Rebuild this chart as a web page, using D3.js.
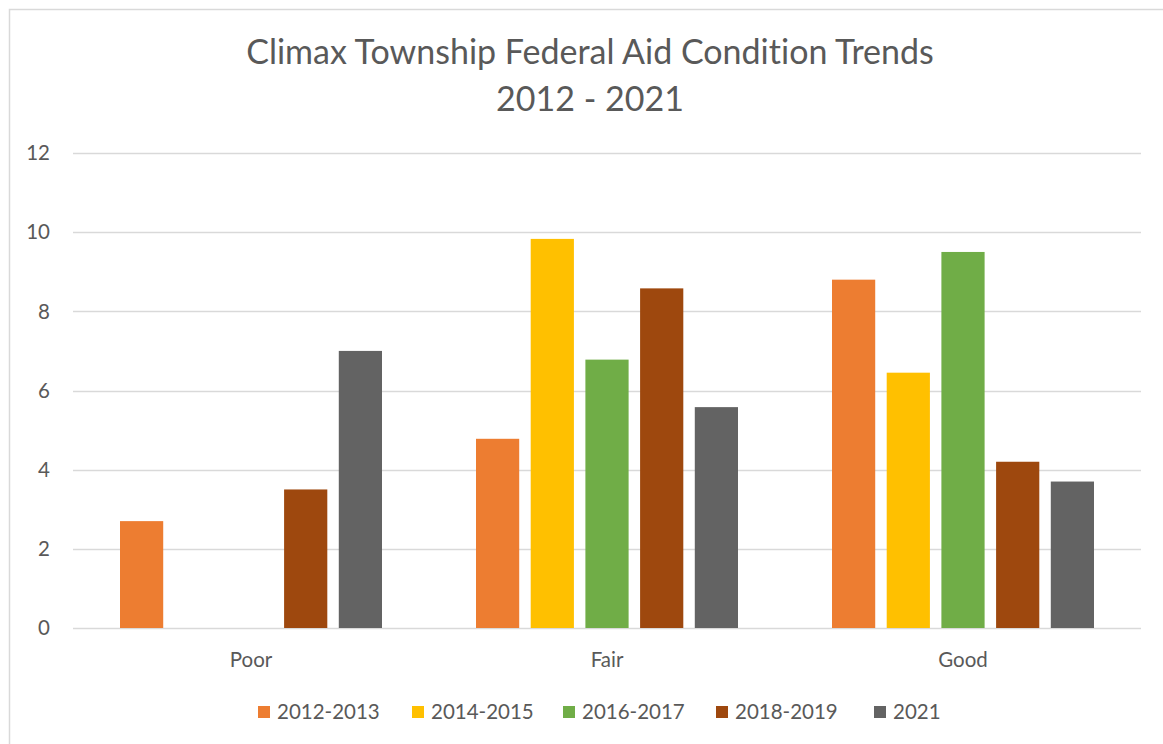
<!DOCTYPE html>
<html><head><meta charset="utf-8">
<script src="https://cdn.jsdelivr.net/npm/d3@7"></script>
<style>body{margin:0;background:#fff;} svg{display:block;} text{font-family:Lato,"Open Sans",sans-serif;fill:#595959;font-variant-ligatures:none;font-feature-settings:"liga" 0;}</style>
</head><body><svg id="c" width="1163" height="744"></svg>
<script>
const categories = ["Poor", "Fair", "Good"];
const seriesNames = ["2012-2013", "2014-2015", "2016-2017", "2018-2019", "2021"];
const colors = ["#ED7D31", "#FFC000", "#70AD47", "#9E480E", "#636363"];
const v2012 = [2.7, 4.78, 8.8];
const v2014 = [0, 9.83, 6.45];
const v2016 = [0, 6.78, 9.5];
const v2018 = [3.5, 8.58, 4.2];
const v2021 = [7.0, 5.58, 3.7];
const yTicks = [0, 2, 4, 6, 8, 10, 12];
const titleLines = ["Climax Township Federal Aid Condition Trends", "2012 - 2021"];

const seriesValues = [v2012, v2014, v2016, v2018, v2021];
const svg = d3.select("#c");
svg.append("rect").attr("x", 9.5).attr("y", 9.5).attr("width", 1200).attr("height", 800)
  .attr("fill", "#fff").attr("stroke", "#d9d9d9").attr("stroke-width", 1.5);

const x0 = d3.scaleBand().domain(categories).range([73, 1141]).padding(0);
const x1 = d3.scaleBand().domain(seriesNames).range([47, x0.bandwidth() - 47]).paddingInner(0.21).paddingOuter(0);
const y = d3.scaleLinear().domain([0, 12]).range([628, 153]);

// gridlines
svg.append("g").selectAll("line").data(yTicks).join("line")
  .attr("x1", 73).attr("x2", 1141).attr("y1", d => Math.round(y(d)) + 0.5).attr("y2", d => Math.round(y(d)) + 0.5)
  .attr("stroke", "#d9d9d9").attr("stroke-width", 1.3);

// y labels
svg.append("g").selectAll("text").data(yTicks).join("text")
  .attr("x", 50).attr("y", d => y(d)).attr("dy", "0.35em").attr("text-anchor", "end")
  .style("font-size", "20.5px").text(d => d);

// bars
const g = svg.append("g").selectAll("g").data(categories).join("g")
  .attr("transform", d => `translate(${x0(d)},0)`);
g.selectAll("rect").data((c, ci) => seriesNames.map((s, si) => ({s, si, v: seriesValues[si][ci]})).filter(d => d.v > 0))
  .join("rect")
  .attr("x", d => x1(d.s)).attr("width", x1.bandwidth())
  .attr("y", d => y(d.v)).attr("height", d => y(0) - y(d.v))
  .attr("fill", d => colors[d.si]);

// x labels
svg.append("g").selectAll("text").data(categories).join("text")
  .attr("x", d => x0(d) + x0.bandwidth() / 2).attr("y", 667).attr("text-anchor", "middle")
  .style("font-size", "20.5px").text(d => d);

// title
svg.append("g").selectAll("text").data(titleLines).join("text")
  .attr("x", 590).attr("y", (d, i) => 64 + i * 47).attr("text-anchor", "middle")
  .style("font-size", "34px").text(d => d);

// legend
const legX = [258, 412, 563, 716, 874];
const leg = svg.append("g").selectAll("g").data(seriesNames).join("g")
  .attr("transform", (d, i) => `translate(${legX[i]},706)`);
leg.append("rect").attr("width", 12).attr("height", 12).attr("fill", (d, i) => colors[i]);
leg.append("text").attr("x", 19).attr("y", 6).attr("dy", "0.35em").style("font-size", "20.5px").text(d => d);
</script></body></html>
